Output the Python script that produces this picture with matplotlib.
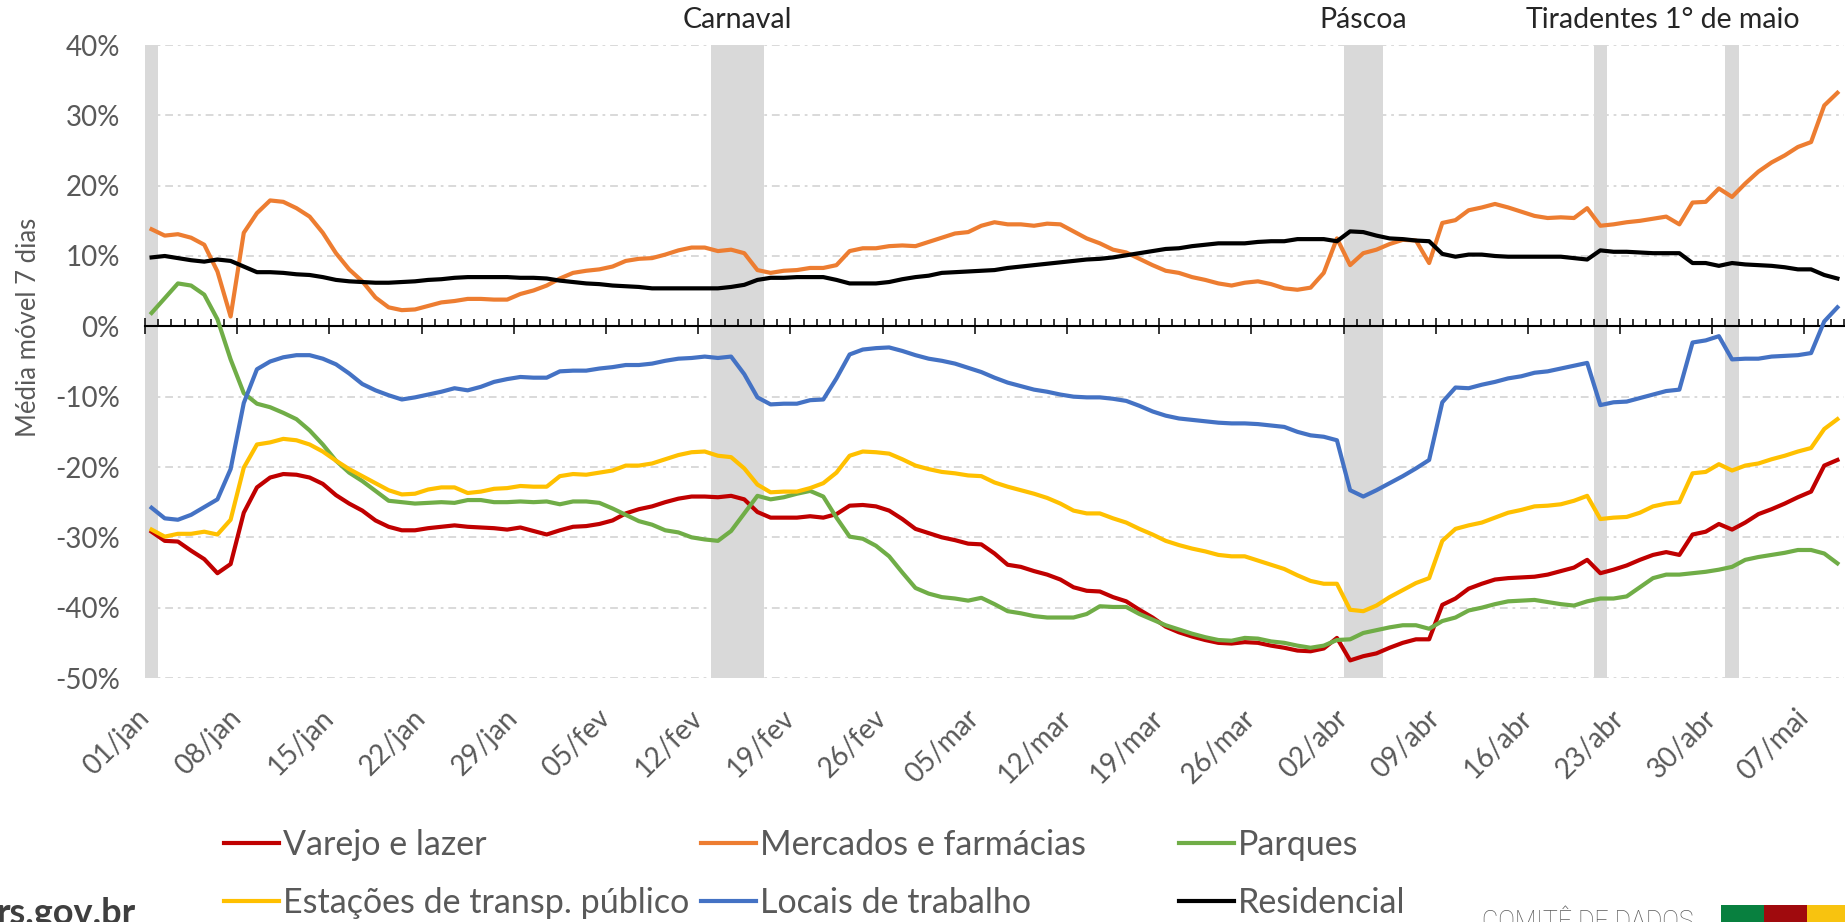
"""Mobilidade Google - RS, média móvel 7 dias"""
import numpy as np
import pandas as pd
import matplotlib
matplotlib.use('Agg')
import matplotlib.pyplot as plt
from matplotlib.lines import Line2D
from matplotlib.patches import Rectangle

plt.rcParams['font.family'] = ['Lato', 'DejaVu Sans']

# datas: 01/jan a 09/mai (129 dias)
datas = pd.date_range('2021-01-01', '2021-05-09', freq='D')
meses = {1: 'jan', 2: 'fev', 3: 'mar', 4: 'abr', 5: 'mai'}

varejo = [
    -29.2, -30.5, -30.6, -31.9, -33.1, -35.1, -33.8, -26.5, -22.9, -21.5, -21.0, -21.1, -21.5, -22.4, -24.0, -25.2,
    -26.2, -27.6, -28.5, -29.0, -29.0, -28.7, -28.5, -28.3, -28.5, -28.6, -28.7, -28.9, -28.6, -29.1, -29.6, -29.0,
    -28.5, -28.4, -28.1, -27.6, -26.6, -26.0, -25.6, -25.0, -24.5, -24.2, -24.2, -24.3, -24.1, -24.6, -26.4, -27.2,
    -27.2, -27.2, -27.0, -27.2, -26.7, -25.5, -25.4, -25.6, -26.2, -27.4, -28.8, -29.4, -30.0, -30.4, -30.9, -31.0,
    -32.3, -33.9, -34.2, -34.8, -35.3, -36.0, -37.1, -37.6, -37.7, -38.5, -39.1, -40.3, -41.4, -42.7, -43.5, -44.1,
    -44.6, -45.0, -45.1, -44.9, -45.0, -45.4, -45.7, -46.1, -46.2, -45.8, -44.3, -47.5, -46.9, -46.5, -45.7, -45.0,
    -44.5, -44.5, -39.6, -38.7, -37.3, -36.6, -36.0, -35.8, -35.7, -35.6, -35.3, -34.8, -34.3, -33.2, -35.1, -34.6,
    -34.0, -33.2, -32.5, -32.1, -32.5, -29.6, -29.2, -28.1, -28.9, -27.9, -26.7, -26.0, -25.2, -24.3, -23.5, -19.8,
    -19.0,
]
mercados = [
    13.8, 12.9, 13.1, 12.6, 11.6, 7.8, 1.4, 13.3, 16.1, 17.9, 17.7, 16.8, 15.6, 13.3, 10.4, 8.1,
    6.4, 4.1, 2.7, 2.3, 2.4, 2.9, 3.4, 3.6, 3.9, 3.9, 3.8, 3.8, 4.6, 5.1, 5.8, 6.8,
    7.6, 7.9, 8.1, 8.5, 9.3, 9.6, 9.7, 10.2, 10.8, 11.2, 11.2, 10.7, 10.9, 10.4, 8.0, 7.6,
    7.9, 8.0, 8.3, 8.3, 8.7, 10.7, 11.1, 11.1, 11.4, 11.5, 11.4, 12.0, 12.6, 13.2, 13.4, 14.3,
    14.8, 14.5, 14.5, 14.3, 14.6, 14.5, 13.5, 12.5, 11.8, 10.9, 10.5, 9.6, 8.7, 7.9, 7.6, 7.0,
    6.6, 6.1, 5.8, 6.2, 6.4, 6.0, 5.4, 5.2, 5.5, 7.6, 12.5, 8.7, 10.4, 10.9, 11.7, 12.3,
    12.2, 9.0, 14.7, 15.1, 16.5, 16.9, 17.4, 16.9, 16.3, 15.7, 15.4, 15.5, 15.4, 16.8, 14.3, 14.5,
    14.8, 15.0, 15.3, 15.6, 14.5, 17.6, 17.7, 19.6, 18.4, 20.3, 22.0, 23.3, 24.3, 25.5, 26.2, 31.4,
    33.2,
]
parques = [
    1.9, 4.0, 6.1, 5.8, 4.5, 1.0, -4.7, -9.5, -11.0, -11.5, -12.3, -13.2, -14.8, -16.8, -19.1, -20.8,
    -22.0, -23.4, -24.8, -25.0, -25.2, -25.1, -25.0, -25.1, -24.7, -24.7, -25.0, -25.0, -24.9, -25.0, -24.9, -25.3,
    -24.9, -24.9, -25.1, -25.9, -26.8, -27.7, -28.2, -29.0, -29.3, -30.0, -30.3, -30.5, -29.1, -26.6, -24.1, -24.6,
    -24.3, -23.8, -23.4, -24.2, -27.2, -29.9, -30.2, -31.2, -32.7, -35.0, -37.2, -38.0, -38.5, -38.7, -39.0, -38.6,
    -39.5, -40.5, -40.8, -41.2, -41.4, -41.4, -41.4, -40.9, -39.8, -39.9, -39.9, -40.9, -41.7, -42.5, -43.1, -43.7,
    -44.2, -44.6, -44.7, -44.3, -44.4, -44.8, -45.0, -45.4, -45.7, -45.4, -44.6, -44.5, -43.6, -43.2, -42.8, -42.5,
    -42.5, -43.0, -41.9, -41.4, -40.4, -40.0, -39.5, -39.1, -39.0, -38.9, -39.2, -39.5, -39.7, -39.1, -38.7, -38.7,
    -38.4, -37.1, -35.8, -35.3, -35.3, -35.1, -34.9, -34.6, -34.2, -33.2, -32.8, -32.5, -32.2, -31.8, -31.8, -32.3,
    -33.7,
]
estacoes = [
    -28.9, -29.9, -29.5, -29.5, -29.2, -29.6, -27.5, -20.1, -16.8, -16.5, -16.0, -16.2, -16.8, -17.8, -19.1, -20.3,
    -21.3, -22.3, -23.3, -23.9, -23.8, -23.2, -22.9, -22.9, -23.7, -23.5, -23.1, -23.0, -22.7, -22.8, -22.8, -21.3,
    -21.0, -21.1, -20.8, -20.5, -19.8, -19.8, -19.5, -18.9, -18.3, -17.9, -17.8, -18.4, -18.6, -20.2, -22.5, -23.6,
    -23.5, -23.5, -23.0, -22.3, -20.8, -18.4, -17.8, -17.9, -18.1, -18.9, -19.8, -20.3, -20.7, -20.9, -21.2, -21.3,
    -22.2, -22.8, -23.3, -23.8, -24.4, -25.2, -26.2, -26.6, -26.6, -27.3, -27.9, -28.8, -29.6, -30.5, -31.1, -31.6,
    -32.0, -32.5, -32.7, -32.7, -33.3, -33.9, -34.5, -35.4, -36.2, -36.6, -36.6, -40.3, -40.5, -39.7, -38.5, -37.5,
    -36.5, -35.8, -30.5, -28.8, -28.3, -27.9, -27.2, -26.5, -26.1, -25.6, -25.5, -25.3, -24.8, -24.1, -27.4, -27.2,
    -27.1, -26.5, -25.6, -25.2, -25.0, -20.9, -20.7, -19.6, -20.5, -19.8, -19.5, -18.9, -18.4, -17.8, -17.3, -14.6,
    -13.2,
]
locais = [
    -25.8, -27.3, -27.5, -26.8, -25.7, -24.6, -20.3, -10.9, -6.1, -5.0, -4.4, -4.1, -4.1, -4.6, -5.4, -6.7,
    -8.2, -9.1, -9.8, -10.4, -10.1, -9.7, -9.3, -8.8, -9.1, -8.6, -7.9, -7.5, -7.2, -7.3, -7.3, -6.4,
    -6.3, -6.3, -6.0, -5.8, -5.5, -5.5, -5.3, -4.9, -4.6, -4.5, -4.3, -4.5, -4.3, -6.8, -10.1, -11.1,
    -11.0, -11.0, -10.5, -10.4, -7.4, -4.0, -3.3, -3.1, -3.0, -3.5, -4.1, -4.6, -4.9, -5.3, -5.9, -6.5,
    -7.3, -8.0, -8.5, -9.0, -9.3, -9.7, -10.0, -10.1, -10.1, -10.3, -10.6, -11.3, -12.1, -12.7, -13.1, -13.3,
    -13.5, -13.7, -13.8, -13.8, -13.9, -14.1, -14.3, -15.0, -15.5, -15.7, -16.2, -23.3, -24.2, -23.3, -22.3, -21.3,
    -20.2, -19.0, -10.8, -8.7, -8.8, -8.3, -7.9, -7.4, -7.1, -6.6, -6.4, -6.0, -5.6, -5.2, -11.2, -10.8,
    -10.7, -10.2, -9.7, -9.2, -9.0, -2.3, -2.0, -1.4, -4.7, -4.6, -4.6, -4.3, -4.2, -4.1, -3.8, 0.7,
    2.7,
]
residencial = [
    9.8, 10.0, 9.7, 9.4, 9.2, 9.5, 9.3, 8.5, 7.7, 7.7, 7.6, 7.4, 7.3, 7.0, 6.6, 6.4,
    6.3, 6.2, 6.2, 6.3, 6.4, 6.6, 6.7, 6.9, 7.0, 7.0, 7.0, 7.0, 6.9, 6.9, 6.8, 6.5,
    6.3, 6.1, 6.0, 5.8, 5.7, 5.6, 5.4, 5.4, 5.4, 5.4, 5.4, 5.4, 5.6, 5.9, 6.6, 6.9,
    6.9, 7.0, 7.0, 7.0, 6.6, 6.1, 6.1, 6.1, 6.3, 6.7, 7.0, 7.2, 7.6, 7.7, 7.8, 7.9,
    8.0, 8.3, 8.5, 8.7, 8.9, 9.1, 9.3, 9.5, 9.6, 9.8, 10.1, 10.4, 10.7, 11.0, 11.1, 11.4,
    11.6, 11.8, 11.8, 11.8, 12.0, 12.1, 12.1, 12.4, 12.4, 12.4, 12.1, 13.5, 13.4, 12.9, 12.5, 12.4,
    12.2, 12.1, 10.3, 9.9, 10.2, 10.2, 10.0, 9.9, 9.9, 9.9, 9.9, 9.9, 9.7, 9.5, 10.8, 10.6,
    10.6, 10.5, 10.4, 10.4, 10.4, 9.0, 9.0, 8.6, 9.0, 8.8, 8.7, 8.6, 8.4, 8.1, 8.1, 7.3,
    6.8,
]

series = [
    ('Varejo e lazer', varejo, '#C00000'),
    ('Mercados e farmácias', mercados, '#ED7D31'),
    ('Parques', parques, '#70AD47'),
    ('Estações de transp. público', estacoes, '#FFC000'),
    ('Locais de trabalho', locais, '#4472C4'),
    ('Residencial', residencial, '#000000'),
]

# feriados (início, fim, rótulo)
feriados = [
    ('2021-01-01', '2021-01-01', ''),
    ('2021-02-13', '2021-02-16', 'Carnaval'),
    ('2021-04-02', '2021-04-04', 'Páscoa'),
    ('2021-04-21', '2021-04-21', 'Tiradentes'),
    ('2021-05-01', '2021-05-01', '1° de maio'),
]

cinza = '#595959'
W, H = 1845, 922
fig = plt.figure(figsize=(W / 100, H / 100), dpi=100)
ax = fig.add_axes([145 / W, 1 - 678 / H, 1699 / W, 633 / H])

n = len(datas)
x = np.arange(n) + 0.5
ymin, ymax = -50, 40
ax.set_xlim(0, n)
ax.set_ylim(ymin, ymax)

for ini, fim, nome in feriados:
    i0 = datas.get_loc(pd.Timestamp(ini))
    i1 = datas.get_loc(pd.Timestamp(fim)) + 1
    ax.axvspan(i0, i1, color='#D9D9D9', lw=0, zorder=1)
    if nome:
        # pequeno recuo no Tiradentes para não encostar no rótulo de 1° de maio
        dx = -0.6 if nome == 'Tiradentes' else 0
        ax.text((i0 + i1) / 2 + dx, 1.039, nome, transform=ax.get_xaxis_transform(),
                ha='center', va='center', fontsize=20.5, color='#262626')

for nome, vals, cor in series:
    ax.plot(x, np.array(vals), color=cor, lw=3, solid_joinstyle='round', zorder=3)

# eixo y e grade
ax.set_yticks(np.arange(ymin, ymax + 1, 10))
ax.set_yticklabels([f'{v}%' for v in range(ymin, ymax + 1, 10)])
ax.tick_params(axis='y', length=0, pad=18, labelsize=20, labelcolor=cinza)
ax.yaxis.grid(True, color='#D9D9D9', lw=1.4, ls=(0, (4, 2.5, 1.4, 2.5)))
ax.set_axisbelow(True)
for s in ax.spines.values():
    s.set_visible(False)
ax.set_ylabel('Média móvel 7 dias', fontsize=18.5, color=cinza)
ax.yaxis.set_label_coords(-0.061, 0.554)

# rótulos de data embaixo
semanas = np.arange(0, n, 7)
ax.set_xticks(semanas)
ax.set_xticklabels([f'{datas[i].day:02d}/{meses[datas[i].month]}' for i in semanas])
ax.tick_params(axis='x', length=0, pad=26, labelsize=20, labelcolor=cinza)
for lab in ax.get_xticklabels():
    lab.set_rotation(45)
    lab.set_ha('right')
    lab.set_va('center')
    lab.set_rotation_mode('anchor')

# eixo horizontal no zero
sec = ax.secondary_xaxis((0 - ymin) / (ymax - ymin))
sec.set_xticks(semanas)
sec.set_xticks(np.arange(0, n + 1), minor=True)
sec.set_xticklabels([])
sec.tick_params(which='major', direction='inout', length=11, width=1.1, color='black')
sec.tick_params(which='minor', direction='out', length=5, width=1.1, color='black')
for s in sec.spines.values():
    s.set_linewidth(1.5)
    s.set_color('black')
sec.set_zorder(2)

# legenda em três colunas
cols = [[series[0], series[3]], [series[1], series[4]], [series[2], series[5]]]
x_cols = [224, 701, 1179]
for col, xc in zip(cols, x_cols):
    handles = [Line2D([], [], color=c, lw=3) for _, _, c in col]
    labels = [nm for nm, _, _ in col]
    leg = fig.legend(handles, labels, loc='center left', bbox_to_anchor=(xc / W, 1 - 874 / H),
                     frameon=False, fontsize=24.5, handlelength=1.62, handletextpad=0.1,
                     labelspacing=0.78, borderpad=0, borderaxespad=0)
    for t in leg.get_texts():
        t.set_color(cinza)

# rodapé
fig.text(-0.002, 1 - 897 / H, 'rs.gov.br', fontsize=26, fontweight='bold', color='#3F3F3F',
         ha='left', va='top')
fig.text(1482 / W, 1 - 910 / H, 'COMITÊ DE DADOS', fontsize=18, color=cinza,
         family=['Roboto', 'DejaVu Sans'], fontweight='light', ha='left', va='top')
for x0, x1, cor in [(1721, 1764, '#08803F'), (1764, 1807, '#A00A0D'), (1807, 1845, '#F8C30F')]:
    fig.add_artist(Rectangle((x0 / W, 0), (x1 - x0) / W, 17 / H, transform=fig.transFigure,
                             color=cor, lw=0))

fig.savefig('out.png', dpi=100)
plt.close(fig)
